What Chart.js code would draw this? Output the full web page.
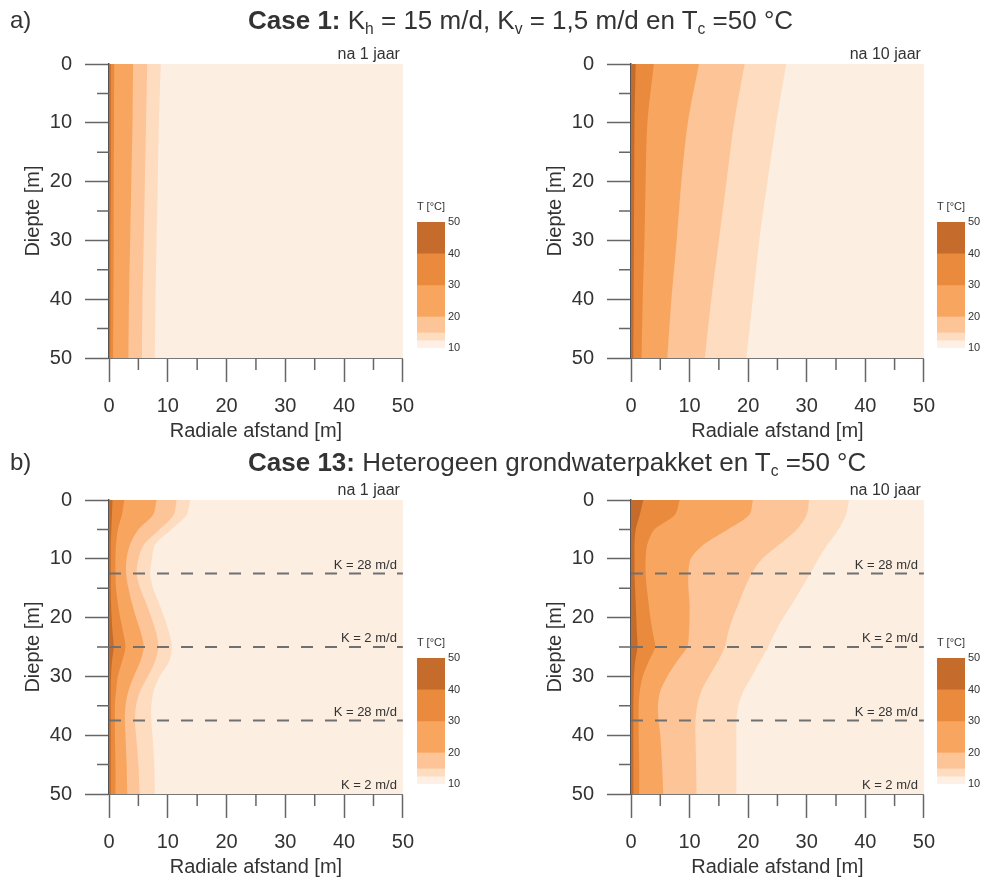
<!DOCTYPE html>
<html><head><meta charset="utf-8">
<script src="https://cdn.jsdelivr.net/npm/chart.js@4.4.1/dist/chart.umd.min.js"></script>
<style>
body{margin:0;background:#fff;width:987px;height:880px;position:relative;overflow:hidden;font-family:'Liberation Sans',Arial,sans-serif;color:#333}
canvas{position:absolute}
.t{position:absolute;white-space:nowrap;line-height:1}
sub{font-size:60%;vertical-align:-0.35em;line-height:0}
</style></head><body>
<canvas id="c1" width="426" height="443" style="left:0;top:0"></canvas>
<canvas id="c2" width="425" height="443" style="left:522px;top:0"></canvas>
<canvas id="c3" width="426" height="443" style="left:0;top:436px"></canvas>
<canvas id="c4" width="425" height="443" style="left:522px;top:436px"></canvas>
<canvas id="cb1" width="60" height="146" style="left:410px;top:212px"></canvas>
<canvas id="cb2" width="60" height="146" style="left:930px;top:212px"></canvas>
<canvas id="cb3" width="60" height="146" style="left:410px;top:648px"></canvas>
<canvas id="cb4" width="60" height="146" style="left:930px;top:648px"></canvas>
<div class="t" style="left:10px;top:8px;font-size:24px">a)</div>
<div class="t" style="left:248px;top:7px;font-size:26px"><b>Case 1:</b> K<sub>h</sub> = 15 m/d, K<sub>v</sub> = 1,5 m/d en T<sub>c</sub> =50 °C</div>
<div class="t" style="left:10px;top:450px;font-size:24px">b)</div>
<div class="t" style="left:248px;top:449px;font-size:26px"><b>Case 13:</b> Heterogeen grondwaterpakket en T<sub>c</sub> =50 °C</div>
<div class="t" style="left:417px;top:201px;font-size:11px">T [°C]</div>
<div class="t" style="left:937px;top:201px;font-size:11px">T [°C]</div>
<div class="t" style="left:417px;top:637px;font-size:11px">T [°C]</div>
<div class="t" style="left:937px;top:637px;font-size:11px">T [°C]</div>
<script>
// ---- data ----
const levels = [40, 30, 20, 15, 12.5];           // contour levels (°C), boundaries listed inner -> outer
const cbLevels = [50, 40, 30, 20, 15, 12.5, 10]; // colour bar levels
const xTicks = [0, 10, 20, 30, 40, 50];
const minorTicks = [5, 15, 25, 35, 45];

// Case 1 (depth in m)
const depthCase1 = [0, 10, 20, 30, 40, 50];
// na 1 jaar : radial distance (m) of each isotherm
const c1j1_40 = [0.3, 0.3, 0.3, 0.25, 0.25, 0.2];
const c1j1_30 = [0.9, 0.85, 0.8, 0.8, 0.75, 0.7];
const c1j1_20 = [4.1, 4.0, 3.8, 3.6, 3.4, 3.3];
const c1j1_15 = [6.5, 6.3, 6.1, 5.9, 5.7, 5.6];
const c1j1_12 = [8.8, 8.5, 8.3, 8.1, 7.9, 7.8];
// na 10 jaar
const c1j10_40 = [0.8, 0.6, 0.55, 0.5, 0.45, 0.4];
const c1j10_30 = [3.9, 2.8, 2.5, 2.3, 2.0, 1.8];
const c1j10_20 = [11.6, 9.7, 8.6, 7.8, 6.9, 6.2];
const c1j10_15 = [19.4, 17.6, 16.3, 15.0, 13.7, 12.6];
const c1j10_12 = [26.5, 24.8, 23.3, 21.9, 20.8, 19.7];

// Case 13
const depthCase13 = [0, 2.5, 5, 7.5, 10, 12.5, 15, 17.5, 20, 22.5, 25, 27.5, 30, 32.5, 35, 37.5, 40, 45, 50];
const layerDepths = [12.5, 25, 37.5];
const kLabelDepths = [12.5, 25, 37.5, 50];
const kLabels = ['K = 28 m/d', 'K = 2 m/d', 'K = 28 m/d', 'K = 2 m/d'];
// na 1 jaar
const c13j1_40 = [0.6, 0.5, 0.4, 0.3, 0.3, 0.3, 0.3, 0.35, 0.45, 0.6, 0.8, 0.5, 0.35, 0.3, 0.3, 0.3, 0.3, 0.3, 0.3];
const c13j1_30 = [2.6, 2.2, 1.5, 1.2, 1.1, 1.1, 1.2, 1.5, 1.9, 2.4, 2.8, 2.2, 1.5, 1.2, 1.0, 1.0, 1.0, 1.1, 1.1];
const c13j1_20 = [8.1, 7.5, 5.0, 3.6, 3.0, 2.9, 3.3, 3.9, 4.6, 5.4, 5.9, 5.3, 4.2, 3.3, 2.8, 2.7, 2.8, 3.0, 3.1];
const c13j1_15 = [11.5, 11.0, 8.6, 6.0, 5.0, 4.7, 5.3, 6.3, 7.2, 8.0, 8.4, 7.8, 6.6, 5.3, 4.6, 4.4, 4.6, 5.0, 5.2];
const c13j1_12 = [13.8, 13.2, 10.6, 7.9, 7.3, 7.0, 7.5, 8.5, 9.4, 10.2, 10.7, 10.2, 8.6, 7.6, 7.2, 7.2, 7.4, 7.7, 7.8];
// na 10 jaar
const c13j10_40 = [2.1, 1.5, 0.8, 0.6, 0.6, 0.6, 0.7, 0.8, 0.9, 1.0, 1.1, 0.7, 0.5, 0.45, 0.4, 0.4, 0.4, 0.4, 0.4];
const c13j10_30 = [8.3, 7.5, 4.0, 2.8, 2.5, 2.5, 2.7, 3.0, 3.3, 3.7, 4.1, 3.0, 2.0, 1.5, 1.3, 1.3, 1.3, 1.4, 1.4];
const c13j10_20 = [20.8, 20.2, 16.5, 12.5, 10.2, 9.8, 9.8, 10.0, 10.0, 9.9, 9.6, 7.8, 6.2, 5.0, 4.6, 4.7, 5.0, 5.3, 5.5];
const c13j10_15 = [30.4, 30.0, 28.3, 25.4, 22.4, 20.6, 19.4, 18.4, 17.4, 16.6, 16.0, 14.8, 13.3, 12.0, 11.3, 11.0, 11.0, 11.1, 11.2];
const c13j10_12 = [37.2, 36.7, 35.4, 33.6, 32.0, 30.6, 29.1, 27.6, 26.0, 24.6, 23.4, 22.0, 20.6, 19.2, 18.3, 18.0, 18.0, 18.0, 18.0];

// ---- style ----
const bandColors = ['#c56c2c', '#e98a3c', '#f8a65f', '#fcc497', '#fddcc0'];
const cbColors = ['#c56c2c', '#e98a3c', '#f8a65f', '#fcc497', '#fddcc0', '#fef0e5'];
const bgColor = '#fdeee2';
const FAM = "'Liberation Sans', Arial, sans-serif";
Chart.defaults.font.family = FAM;
Chart.defaults.color = '#333';

const extras = {
  id: 'extras',
  beforeDatasetsDraw(chart) {
    const {ctx, chartArea: a} = chart;
    ctx.save(); ctx.fillStyle = bgColor;
    ctx.fillRect(a.left, a.top, a.right - a.left, a.bottom - a.top);
    ctx.restore();
  },
  afterDraw(chart, args, o) {
    const {ctx, chartArea: a, scales: {x, y}} = chart;
    ctx.save();
    ctx.strokeStyle = '#666'; ctx.lineWidth = 1.5;
    ctx.beginPath();
    minorTicks.forEach(v => {
      const px = x.getPixelForValue(v);
      ctx.moveTo(px, a.bottom); ctx.lineTo(px, a.bottom + 12);
      const py = y.getPixelForValue(v);
      ctx.moveTo(a.left, py); ctx.lineTo(a.left - 12, py);
    });
    ctx.stroke();
    ctx.fillStyle = '#333';
    ctx.textAlign = 'right'; ctx.textBaseline = 'alphabetic';
    ctx.font = '16px ' + FAM;
    ctx.fillText(o.corner, a.right - 3, a.top - 5);
    if (o.klabels) {
      ctx.font = '13px ' + FAM;
      o.klabels.forEach((t, i) => ctx.fillText(t, a.right - 6, y.getPixelForValue(o.kdepths[i]) - 5));
    }
    ctx.restore();
  }
};

function makeContour(id, depths, bounds, corner, withLayers) {
  const datasets = [];
  if (withLayers) {
    layerDepths.forEach(d => datasets.push({
      data: [{x: 0, y: d}, {x: 50, y: d}], borderColor: '#707070', borderWidth: 2,
      borderDash: [12, 12], fill: false, pointRadius: 0, tension: 0
    }));
  }
  bounds.forEach((arr, i) => datasets.push({
    label: levels[i] + ' °C',
    data: depths.map((d, j) => ({x: arr[j], y: d})),
    backgroundColor: bandColors[i], borderColor: 'rgba(0,0,0,0)', borderWidth: 0,
    fill: 'origin', pointRadius: 0, tension: 0.3
  }));
  const tickFont = {size: 20, family: FAM};
  new Chart(document.getElementById(id), {
    type: 'line',
    data: {datasets},
    plugins: [extras],
    options: {
      indexAxis: 'y', responsive: false, animation: false, events: [],
      layout: {padding: {top: 64, right: 0, left: 0, bottom: 0}},
      plugins: {legend: {display: false}, tooltip: {enabled: false},
        extras: {corner, klabels: withLayers ? kLabels : null, kdepths: kLabelDepths}},
      scales: {
        x: {type: 'linear', position: 'bottom', min: 0, max: 50, z: 1,
          ticks: {stepSize: 10, font: tickFont, color: '#333', padding: 12, maxRotation: 0, autoSkip: false},
          grid: {drawOnChartArea: false, tickLength: 24, tickColor: '#666', tickWidth: 1.5},
          border: {display: true, color: '#777', width: 1},
          title: {display: true, text: 'Radiale afstand [m]', font: {size: 20}, color: '#333', padding: {top: 0, bottom: 0}},
          afterFit(s) { s.height = 85; }
        },
        y: {type: 'linear', position: 'left', min: 0, max: 50, reverse: true, z: 1,
          ticks: {stepSize: 10, font: tickFont, color: '#333', padding: 13},
          grid: {drawOnChartArea: false, tickLength: 24, tickColor: '#666', tickWidth: 1.5},
          border: {display: true, color: '#555', width: 1.5},
          title: {display: true, text: 'Diepte [m]', font: {size: 20}, color: '#333', padding: {top: 21, bottom: 0}},
          afterFit(s) { s.width = 109; }
        }
      }
    }
  });
}

function makeColorbar(id) {
  const datasets = cbColors.map((c, i) => ({
    data: [[cbLevels[i + 1], cbLevels[i]]], backgroundColor: c, borderWidth: 0,
    grouped: false, barPercentage: 1, categoryPercentage: 1
  }));
  new Chart(document.getElementById(id), {
    type: 'bar',
    data: {labels: ['T'], datasets},
    options: {
      responsive: false, animation: false, events: [],
      layout: {padding: {left: 7, top: 10, bottom: 10, right: 0}},
      plugins: {legend: {display: false}, tooltip: {enabled: false}},
      scales: {
        x: {display: false},
        y: {position: 'right', min: 10, max: 50,
          ticks: {stepSize: 10, font: {size: 11}, color: '#333', padding: 3},
          grid: {display: false, drawTicks: false}, border: {display: false},
          afterFit(s) { s.width = 25; }
        }
      }
    }
  });
}

makeContour('c1', depthCase1, [c1j1_40, c1j1_30, c1j1_20, c1j1_15, c1j1_12], 'na 1 jaar', false);
makeContour('c2', depthCase1, [c1j10_40, c1j10_30, c1j10_20, c1j10_15, c1j10_12], 'na 10 jaar', false);
makeContour('c3', depthCase13, [c13j1_40, c13j1_30, c13j1_20, c13j1_15, c13j1_12], 'na 1 jaar', true);
makeContour('c4', depthCase13, [c13j10_40, c13j10_30, c13j10_20, c13j10_15, c13j10_12], 'na 10 jaar', true);
['cb1', 'cb2', 'cb3', 'cb4'].forEach(makeColorbar);
</script>
</body></html>
